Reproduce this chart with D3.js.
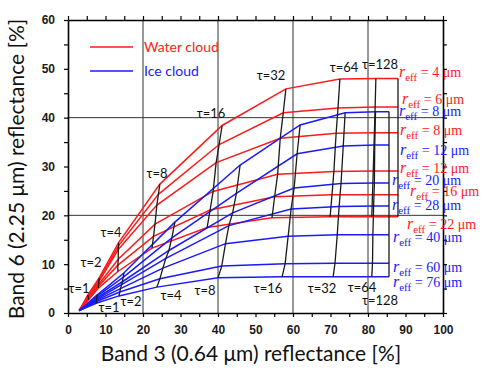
<!DOCTYPE html>
<html><head><meta charset="utf-8">
<script src="https://cdn.jsdelivr.net/npm/d3@7"></script>
<style>body{margin:0;background:#fff} svg{display:block}</style>
</head><body><svg id="c" width="490" height="381"></svg>
<script>
// ---------- data ----------
const xTickValues = [0,5,10,15,20,25,30,35,40,45,50,55,60,65,70,75,80,85,90,95,100];
const xTickLabels = [0,10,20,30,40,50,60,70,80,90,100];
const yTickValues = [0,5,10,15,20,25,30,35,40,45,50,55,60];
const yTickLabels = [0,10,20,30,40,50,60];
const xGrid = [20,40,60,80];
const yGrid = [20,40];

const legendNames = ["Water cloud","Ice cloud"];

// water cloud: points at tau = 0,1,2,4,8,16,32,64,128,end
const waterReff = [4, 6, 8, 12, 16, 22];
const waterTauLabels = ["τ=1","τ=2","τ=4","τ=8","τ=16","τ=32","τ=64","τ=128"];
const waterX = [
  [3.0, 5.3, 8.3, 13.5, 24.5, 41.1, 58.1, 72.5, 82.1, 88.0],
  [3.0, 5.3, 8.3, 13.5, 24.1, 40.3, 57.4, 72.0, 81.9, 88.0],
  [3.0, 5.4, 8.2, 13.4, 23.7, 39.5, 56.6, 71.5, 81.7, 88.0],
  [3.0, 5.4, 8.2, 13.4, 23.2, 38.7, 55.9, 70.9, 81.4, 88.0],
  [3.0, 5.5, 8.1, 13.3, 22.8, 37.9, 55.1, 70.4, 81.2, 88.0],
  [3.0, 5.5, 8.1, 13.3, 22.4, 37.1, 54.4, 69.9, 81.0, 88.0]
];
const waterY = [
  [0.5, 3.7, 7.2, 14.4, 26.4, 38.4, 45.9, 47.9, 48.0, 48.0],
  [0.5, 3.5, 6.8, 13.8, 24.3, 34.5, 41.0, 42.0, 42.2, 42.2],
  [0.5, 3.3, 6.4, 13.0, 22.1, 30.8, 35.8, 36.8, 36.9, 36.9],
  [0.5, 3.1, 5.9, 11.0, 18.2, 24.9, 28.4, 29.0, 29.1, 29.1],
  [0.5, 2.9, 5.5,  9.8, 15.7, 21.1, 23.8, 24.2, 24.2, 24.2],
  [0.5, 2.7, 5.1,  8.5, 13.3, 17.5, 19.5, 19.7, 19.7, 19.7]
];

// ice cloud: points at tau = 0,1,2,4,8,16,32,64,128
const iceReff = [8, 12, 20, 28, 40, 60, 76];
const iceTauLabels = ["τ=1","τ=2","τ=4","τ=8","τ=16","τ=32","τ=64","τ=128"];
const iceX = [
  [3.0, 7.8, 14.9, 28.5, 45.9, 61.9, 73.9, 82.0, 85.6],
  [3.0, 7.7, 14.7, 27.7, 44.9, 61.1, 73.4, 81.8, 85.6],
  [3.0, 7.7, 14.5, 26.9, 43.9, 60.3, 72.8, 81.7, 85.6],
  [3.0, 7.6, 14.3, 26.1, 42.9, 59.5, 72.3, 81.5, 85.6],
  [3.0, 7.6, 14.0, 25.3, 42.0, 58.7, 71.8, 81.3, 85.6],
  [3.0, 7.5, 13.8, 24.5, 41.0, 57.9, 71.2, 81.2, 85.6],
  [3.0, 7.5, 13.6, 23.7, 40.0, 57.1, 70.7, 81.0, 85.6]
];
const iceY = [
  [0.5, 3.7, 8.2, 18.6, 30.3, 38.5, 41.0, 41.2, 41.2],
  [0.5, 3.4, 7.3, 15.4, 24.5, 32.6, 34.2, 34.4, 34.4],
  [0.5, 3.1, 6.4, 12.8, 20.5, 25.6, 26.5, 26.6, 26.6],
  [0.5, 2.8, 5.8, 11.2, 17.9, 21.3, 21.8, 21.9, 21.9],
  [0.5, 2.6, 5.0,  9.2, 14.2, 15.7, 16.0, 16.0, 16.0],
  [0.5, 2.3, 4.3,  7.0,  9.6, 10.1, 10.2, 10.2, 10.2],
  [0.5, 2.0, 3.5,  5.3,  7.2,  7.4,  7.4,  7.4,  7.4]
];

// ---------- layout (pixel positions of annotations) ----------
const waterTauPos = [[79,288],[91,262],[111,232],[157,173],[211,113],[271,75],[344,67],[380,64]];
const iceTauPos   = [[109,307],[131,301],[171,295],[205,290],[268,288],[322,288],[362,287],[380,300]];
const waterLabPos = [[399,73],[402,100],[400,131],[400,169],[410,192],[407,225]];
const iceLabPos   = [[399,112],[400,151],[392,181],[392,206],[393,238],[393,268],[393,283]];

const RED = "#ff1a1a", BLUE = "#1a1aff";

// ---------- drawing ----------
const svg = d3.select("#c");
const x = d3.scaleLinear().domain([0,100]).range([68,443]);
const y = d3.scaleLinear().domain([0,60]).range([313,20]);

// grid
svg.append("g").selectAll("line").data(xGrid).join("line")
  .attr("x1",d=>x(d)).attr("x2",d=>x(d)).attr("y1",y(0)).attr("y2",y(60))
  .attr("stroke","#333").attr("stroke-width",1);
svg.append("g").selectAll("line").data(yGrid).join("line")
  .attr("y1",d=>y(d)).attr("y2",d=>y(d)).attr("x1",x(0)).attr("x2",x(100))
  .attr("stroke","#333").attr("stroke-width",1);

const line = d3.line().x(d=>x(d[0])).y(d=>y(d[1]));

function drawFamily(X, Y, color){
  const g = svg.append("g");
  X.forEach((row,i)=>{
    const pts = row.map((v,j)=>[v, Y[i][j]]);
    g.append("path").attr("d", line(pts)).attr("fill","none")
      .attr("stroke", color).attr("stroke-width",1.5);
  });
}
function drawTau(X, Y){
  const g = svg.append("g");
  const n = X[0].length;
  for(let j=1;j<n;j++){
    const pts = X.map((row,i)=>[row[j], Y[i][j]]);
    g.append("path").attr("d", line(pts)).attr("fill","none")
      .attr("stroke","#1a1a1a").attr("stroke-width",1.3);
  }
}
drawFamily(waterX, waterY, RED);
drawFamily(iceX, iceY, BLUE);
drawTau(waterX, waterY);
drawTau(iceX, iceY);

// axes
function styleAxis(g){
  g.select(".domain").attr("stroke","#000").attr("stroke-width",1.6);
  g.selectAll(".tick line").attr("stroke","#000").attr("stroke-width",1.2);
  g.selectAll(".tick text").attr("font-family","'Liberation Sans', Arial, sans-serif")
    .attr("font-weight","bold").attr("font-size",12).attr("fill","#1a1a1a");
}
svg.append("g").attr("transform",`translate(0,${y(0)})`)
  .call(d3.axisBottom(x).tickValues(xTickValues)
    .tickFormat(d=> xTickLabels.includes(d) ? d : "").tickSize(4).tickSizeOuter(0).tickPadding(8))
  .call(styleAxis);
svg.append("g").attr("transform",`translate(0,${y(60)})`)
  .call(d3.axisTop(x).tickValues(xTickValues).tickFormat("").tickSize(4).tickSizeOuter(0))
  .call(styleAxis);
svg.append("g").attr("transform",`translate(${x(0)},0)`)
  .call(d3.axisLeft(y).tickValues(yTickValues)
    .tickFormat(d=> yTickLabels.includes(d) ? d : "").tickSize(4).tickSizeOuter(0).tickPadding(9))
  .call(styleAxis);
svg.append("g").attr("transform",`translate(${x(100)},0)`)
  .call(d3.axisRight(y).tickValues(yTickValues).tickFormat("").tickSize(4).tickSizeOuter(0))
  .call(styleAxis);

// titles
const TF = "Lato, 'Open Sans', sans-serif";
svg.append("text").attr("x",251).attr("y",361).attr("text-anchor","middle")
  .attr("font-family",TF).attr("font-size",21).attr("fill","#111")
  .text("Band 3 (0.64 μm) reflectance [%]");
svg.append("text").attr("transform","translate(24,169) rotate(-90)").attr("text-anchor","middle")
  .attr("font-family",TF).attr("font-size",21).attr("fill","#111")
  .text("Band 6 (2.25 μm) reflectance [%]");

// legend
const legColors = [RED, BLUE];
legendNames.forEach((nm,i)=>{
  const ly = 47 + i*24;
  svg.append("line").attr("x1",90).attr("x2",133).attr("y1",ly).attr("y2",ly)
    .attr("stroke",legColors[i]).attr("stroke-width",1.5);
  svg.append("text").attr("x",144).attr("y",ly).attr("dy","0.35em")
    .attr("font-family",TF).attr("font-size",14).attr("fill",legColors[i]).text(nm);
});

// tau labels
function tauLabels(labels, pos){
  labels.forEach((t,i)=>{
    svg.append("text").attr("x",pos[i][0]).attr("y",pos[i][1]).attr("dy","0.35em")
      .attr("text-anchor","middle").attr("font-family",TF).attr("font-size",13)
      .attr("fill","#111").text(t);
  });
}
tauLabels(waterTauLabels, waterTauPos);
tauLabels(iceTauLabels, iceTauPos);

// r_eff labels
function reffLabels(reffs, pos, color){
  reffs.forEach((r,i)=>{
    const t = svg.append("text").attr("x",pos[i][0]).attr("y",pos[i][1]).attr("dy","0.3em")
      .attr("font-family","'Liberation Serif', 'DejaVu Serif', serif").attr("font-size",14).attr("fill",color);
    t.append("tspan").attr("font-style","italic").attr("font-size",16).text("r");
    t.append("tspan").attr("font-size",11).attr("dy",4).text("eff");
    t.append("tspan").attr("dy",-4).text(" = " + r + " μm");
  });
}
reffLabels(waterReff, waterLabPos, RED);
reffLabels(iceReff, iceLabPos, BLUE);
</script>
</body></html>
